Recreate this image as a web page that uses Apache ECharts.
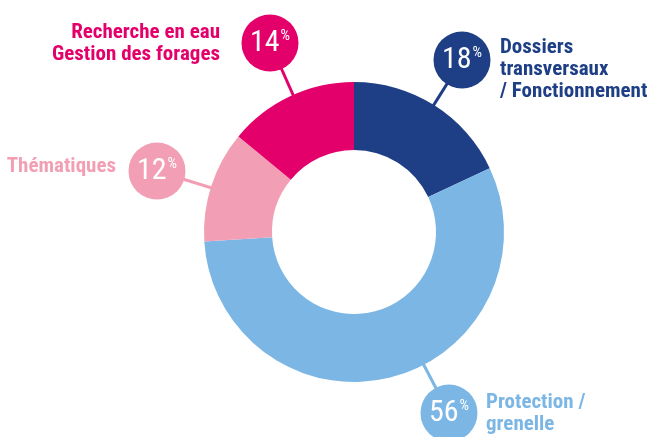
<!DOCTYPE html>
<html>
<head>
<meta charset="utf-8">
<script src="https://cdn.jsdelivr.net/npm/echarts@6/dist/echarts.min.js"></script>
<style>
  html, body { margin: 0; padding: 0; background: #fff; }
  #main { width: 652px; height: 437px; }
</style>
</head>
<body>
<div id="main"></div>
<script>
// data
var names = ["Dossiers\ntransversaux\n/ Fonctionnement", "Protection /\ngrenelle", "Thématiques", "Recherche en eau\nGestion des forages"];
var values = [18, 56, 12, 14];
var colors = ["#1e3f86", "#7bb6e4", "#f29fb5", "#e4006b"];

// layout of the annotations (circle centre, name position)
var CX = 354, CY = 232, R_IN = 82, R_OUT = 150;
var bubblePos = [[462, 60], [449, 413], [157, 171], [270, 43]];
var namePos = [[500, 70, "left"], [486, 414, "left"], [116, 167, "right"], [220, 44, "right"]];
var FONT = "'Roboto Condensed', 'Liberation Sans Narrow', Roboto, sans-serif";

var dom = document.getElementById("main");
var myChart = echarts.init(dom);

var pieData = [];
var nameData = [];
for (let i = 0; i < values.length; i++) {
  pieData.push({
    name: names[i],
    value: values[i],
    itemStyle: { color: colors[i] },
    label: { backgroundColor: colors[i] }
  });
  nameData.push({
    name: names[i],
    value: values[i],
    label: { color: colors[i], align: namePos[i][2] }
  });
}

var option = {
  animation: false,
  series: [
    {
      type: "pie",
      center: [CX, CY],
      radius: [R_IN, R_OUT],
      startAngle: 90,
      clockwise: true,
      data: pieData,
      emphasis: { disabled: true },
      label: {
        show: true,
        position: "outside",
        formatter: function (p) {
          return "{v|" + p.value + "}{p|%}";
        },
        width: 57,
        height: 57,
        borderRadius: 29,
        align: "center",
        verticalAlign: "middle",
        rich: {
          v: { color: "#fff", fontSize: 30, fontFamily: FONT, lineHeight: 57 },
          p: { color: "#fff", fontSize: 15, fontFamily: FONT, padding: [0, 0, 14, 1] }
        }
      },
      labelLine: { show: true, lineStyle: { width: 3 } },
      labelLayout: function (params) {
        var b = bubblePos[params.dataIndex];
        var dx = b[0] - CX, dy = b[1] - CY;
        var d = Math.sqrt(dx * dx + dy * dy);
        var start = [CX + dx / d * (R_OUT - 2), CY + dy / d * (R_OUT - 2)];
        return {
          x: b[0],
          y: b[1],
          align: "center",
          verticalAlign: "middle",
          labelLinePoints: [start, start, b]
        };
      }
    },
    {
      type: "pie",
      silent: true,
      center: [CX, CY],
      radius: [R_IN, R_OUT],
      startAngle: 90,
      clockwise: true,
      data: nameData,
      itemStyle: { color: "rgba(0,0,0,0)" },
      emphasis: { disabled: true },
      label: {
        show: true,
        position: "outside",
        formatter: "{b}",
        overflow: "none",
        fontFamily: FONT,
        fontWeight: "bold",
        fontSize: 21,
        lineHeight: 22
      },
      labelLine: { show: false },
      labelLayout: function (params) {
        var n = namePos[params.dataIndex];
        return { x: n[0], y: n[1], align: n[2], verticalAlign: "middle" };
      }
    }
  ]
};

if (option && typeof option === "object") {
  myChart.setOption(option);
}
</script>
</body>
</html>
